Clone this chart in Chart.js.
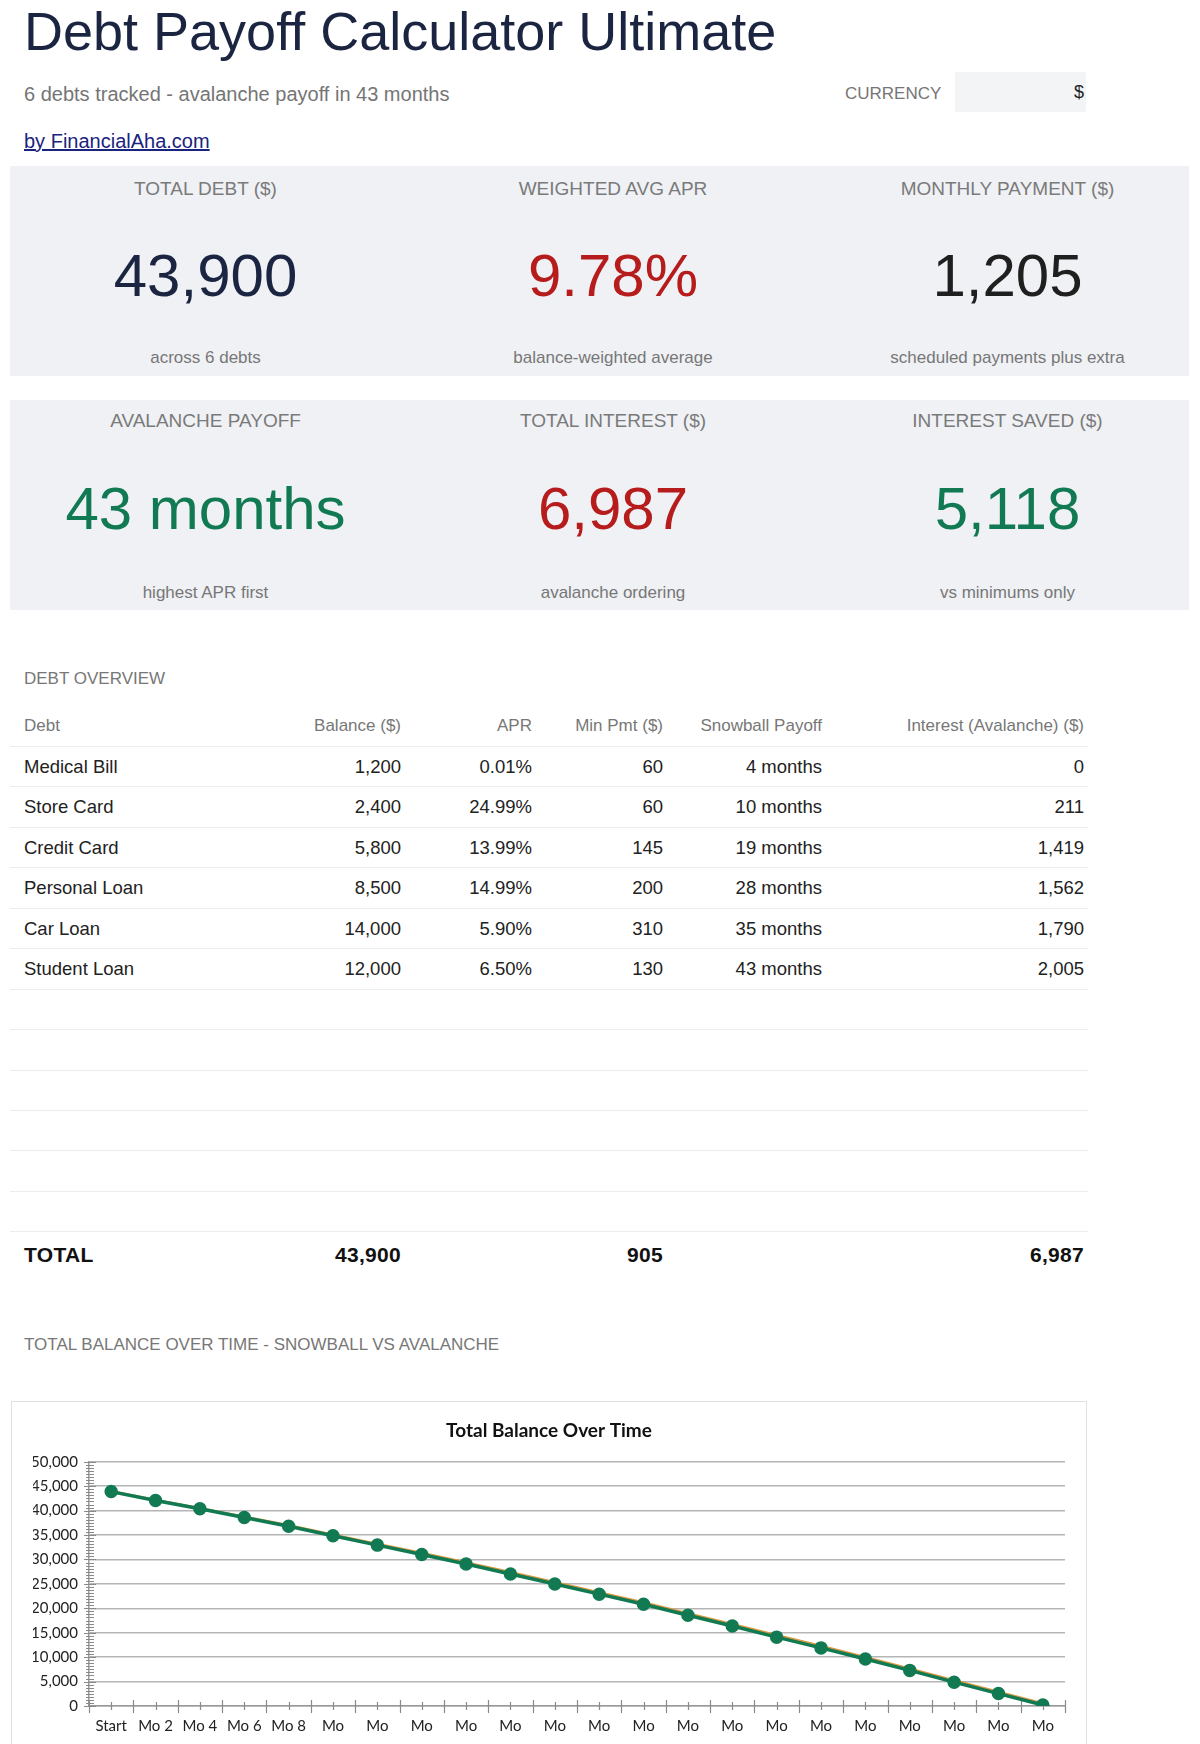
<!DOCTYPE html>
<html>
<head>
<meta charset="utf-8">
<title>Debt Payoff Calculator Ultimate</title>
<script src="https://cdn.jsdelivr.net/npm/chart.js@4.4.1/dist/chart.umd.min.js"></script>
<style>
  html, body { margin: 0; padding: 0; overflow: hidden; background: #fff; }
  body { width: 1200px; height: 1744px; position: relative; font-family: "Liberation Sans", Arial, sans-serif; color: #222; }
  .abs { position: absolute; white-space: nowrap; }
  .title { left: 24px; top: 4px; font-size: 54px; line-height: 54px; color: #1b2541; }
  .sub { left: 24px; top: 82px; font-size: 20px; line-height: 24px; color: #757575; }
  .cur-label { left: 845px; top: 82px; font-size: 17px; line-height: 24px; color: #757575; }
  .cur-box { left: 955px; top: 72px; width: 131px; height: 40px; background: #f3f4f6; text-align: right; font-size: 18px; line-height: 40px; box-sizing: border-box; padding-right: 2px; color: #222; }
  .link { left: 24px; top: 129px; font-size: 20px; line-height: 24px; color: #1a237e; text-decoration: underline; }
  .kpi { position: absolute; left: 10px; width: 1179px; height: 210px; background: #eff1f5; }
  .cell { position: absolute; width: 380px; text-align: center; white-space: nowrap; }
  .k-label { font-size: 19px; line-height: 24px; color: #7a7a7a; }
  .k-value { font-size: 60px; line-height: 60px; }
  .k-sub { font-size: 17px; line-height: 24px; color: #777; }
  .section { left: 24px; font-size: 17px; line-height: 24px; color: #777; }
  .row { position: absolute; left: 10px; width: 1078px; box-sizing: border-box; border-bottom: 1.5px solid #ececec; }
  .row span { position: absolute; top: 0; white-space: nowrap; }
  .hdr span { color: #777; font-size: 17px; }
  .data span { color: #222; font-size: 18.5px; }
  .row.tot { border-bottom: none; }
  .tot span { color: #111; font-size: 21px; font-weight: bold; letter-spacing: 0.3px; }
  .chart-box { position: absolute; left: 11px; top: 1401px; width: 1076px; height: 400px; border: 1px solid #e0e0e0; box-sizing: border-box; }
  .chart-wrap { position: absolute; left: 0; top: 0; width: 1074px; height: 376px; }
</style>
</head>
<body>

<div class="abs title">Debt Payoff Calculator Ultimate</div>
<div class="abs sub">6 debts tracked - avalanche payoff in 43 months</div>
<div class="abs cur-label">CURRENCY</div>
<div class="abs cur-box">$</div>
<div class="abs link">by FinancialAha.com</div>

<div class="kpi" id="kpi1" style="top:166px"></div>
<div class="kpi" id="kpi2" style="top:400px"></div>

<div class="abs section" style="top:667px">DEBT OVERVIEW</div>
<div id="table"></div>

<div class="abs section" style="top:1333px">TOTAL BALANCE OVER TIME - SNOWBALL VS AVALANCHE</div>
<div class="chart-box">
  <div class="chart-wrap"><canvas id="balanceChart"></canvas></div>
</div>

<script>
// KPI cards
const kpiLabels = ['TOTAL DEBT ($)', 'WEIGHTED AVG APR', 'MONTHLY PAYMENT ($)', 'AVALANCHE PAYOFF', 'TOTAL INTEREST ($)', 'INTEREST SAVED ($)'];
const kpiValues = ['43,900', '9.78%', '1,205', '43 months', '6,987', '5,118'];
const kpiSubs = ['across 6 debts', 'balance-weighted average', 'scheduled payments plus extra', 'highest APR first', 'avalanche ordering', 'vs minimums only'];
const kpiColors = ['#1b2541', '#b71c1c', '#1f1f1f', '#117a52', '#b71c1c', '#117a52'];

// Debt table
const tableHeaders = ['Debt', 'Balance ($)', 'APR', 'Min Pmt ($)', 'Snowball Payoff', 'Interest (Avalanche) ($)'];
const debtNames = ['Medical Bill', 'Store Card', 'Credit Card', 'Personal Loan', 'Car Loan', 'Student Loan'];
const debtBalances = ['1,200', '2,400', '5,800', '8,500', '14,000', '12,000'];
const debtAprs = ['0.01%', '24.99%', '13.99%', '14.99%', '5.90%', '6.50%'];
const debtMinPmts = ['60', '60', '145', '200', '310', '130'];
const snowballPayoff = ['4 months', '10 months', '19 months', '28 months', '35 months', '43 months'];
const avalancheInterest = ['0', '211', '1,419', '1,562', '1,790', '2,005'];
const totalsRow = ['TOTAL', '43,900', '', '905', '', '6,987'];

// Chart data
const monthLabels = ['Start', 'Mo 2', 'Mo 4', 'Mo 6', 'Mo 8', 'Mo 10', 'Mo 12', 'Mo 14', 'Mo 16', 'Mo 18', 'Mo 20',
  'Mo 22', 'Mo 24', 'Mo 26', 'Mo 28', 'Mo 30', 'Mo 32', 'Mo 34', 'Mo 36', 'Mo 38', 'Mo 40', 'Mo 42'];
const snowballBalance = [43900, 42150, 40460, 38700, 36940, 35040, 33140, 31260, 29360, 27320, 25270,
  23210, 21160, 18900, 16700, 14430, 12220, 9940, 7590, 5160, 2800, 450];
const avalancheBalance = [43900, 42090, 40370, 38580, 36790, 34870, 32940, 31020, 29090, 27030, 24970,
  22900, 20840, 18570, 16370, 14100, 11900, 9630, 7290, 4880, 2540, 200];
const yTicks = [0, 5000, 10000, 15000, 20000, 25000, 30000, 35000, 40000, 45000, 50000];

// Build KPI cards
const kpiCenters = [195.5, 603, 997.5];
const kpiRows = [{ el: 'kpi1', tops: [11, 80, 180] }, { el: 'kpi2', tops: [9, 79, 181] }];
kpiRows.forEach((r, ri) => {
  const box = document.getElementById(r.el);
  for (let c = 0; c < 3; c++) {
    const i = ri * 3 + c;
    const left = kpiCenters[c] - 190;
    box.innerHTML += `
      <div class="cell k-label" style="left:${left}px;top:${r.tops[0]}px">${kpiLabels[i]}</div>
      <div class="cell k-value" style="left:${left}px;top:${r.tops[1]}px;color:${kpiColors[i]}">${kpiValues[i]}</div>
      <div class="cell k-sub" style="left:${left}px;top:${r.tops[2]}px">${kpiSubs[i]}</div>`;
  }
});

// Build table rows (right edges of numeric columns, relative to row left)
const colRight = [null, 391, 522, 653, 812, 1074];
function rowHtml(cells, cls, top, h) {
  let html = `<div class="row ${cls}" style="top:${top}px;height:${h}px">`;
  cells.forEach((txt, c) => {
    if (txt === '') return;
    if (c === 0) html += `<span style="left:14px;line-height:${h}px">${txt}</span>`;
    else html += `<span style="right:${1078 - colRight[c]}px;line-height:${h}px">${txt}</span>`;
  });
  return html + '</div>';
}
const rowH = 40.45;
const tableTop = 746.5;
let tableHtml = rowHtml(tableHeaders, 'hdr', tableTop - 42, 42);
for (let i = 0; i < 12; i++) {
  const cells = i < debtNames.length
    ? [debtNames[i], debtBalances[i], debtAprs[i], debtMinPmts[i], snowballPayoff[i], avalancheInterest[i]]
    : ['', '', '', '', '', ''];
  tableHtml += rowHtml(cells, 'data', tableTop + 0.5 + rowH * i, rowH);
}
tableHtml += rowHtml(totalsRow, 'tot', 1234, 42);
document.getElementById('table').innerHTML = tableHtml;

// Tick marks that cross the axes (major and minor)
const axisTicks = {
  id: 'axisTicks',
  beforeDatasetsDraw(chart) {
    const { ctx, scales: { x, y } } = chart;
    ctx.save();
    ctx.strokeStyle = '#8a8a8a';
    ctx.lineWidth = 1.2;
    ctx.beginPath();
    for (let v = 0; v <= 50000; v += 625) {
      const py = Math.round(y.getPixelForValue(v)) + 0.5;
      const major = v % 5000 === 0;
      ctx.moveTo(x.left - (major ? 5 : 3), py);
      ctx.lineTo(x.left + (major ? 7 : 5), py);
    }
    const n = monthLabels.length;
    const catW = x.getPixelForValue(1) - x.getPixelForValue(0);
    for (let i = 0; i <= n; i++) {
      const px = Math.round(x.getPixelForValue(i) - catW / 2) + 0.5;
      ctx.moveTo(px, y.bottom - 6);
      ctx.lineTo(px, y.bottom + 7);
    }
    for (let i = 0; i < n; i++) {
      const px = Math.round(x.getPixelForValue(i)) + 0.5;
      ctx.moveTo(px, y.bottom - 4);
      ctx.lineTo(px, y.bottom + 4);
    }
    ctx.stroke();
    ctx.restore();
  }
};

Chart.defaults.font.family = 'Lato';

new Chart(document.getElementById('balanceChart').getContext('2d'), {
  type: 'line',
  data: {
    labels: monthLabels,
    datasets: [
      {
        label: 'Snowball',
        data: snowballBalance,
        borderColor: '#d9983f',
        backgroundColor: '#d9983f',
        borderWidth: 3,
        pointRadius: 0,
        tension: 0,
        order: 1
      },
      {
        label: 'Avalanche',
        data: avalancheBalance,
        borderColor: '#127a52',
        backgroundColor: '#127a52',
        borderWidth: 3.5,
        pointRadius: 5,
        pointHoverRadius: 5,
        tension: 0,
        order: 0
      }
    ]
  },
  plugins: [axisTicks],
  options: {
    responsive: true,
    maintainAspectRatio: false,
    animation: false,
    layout: { padding: { left: 21, right: 21, top: 0, bottom: 5 } },
    plugins: {
      legend: { display: false },
      tooltip: { enabled: false },
      title: {
        display: true,
        text: 'Total Balance Over Time',
        color: '#111',
        font: { family: 'Lato', size: 19, weight: 'bold' },
        padding: { top: 17, bottom: 20 }
      }
    },
    scales: {
      x: {
        offset: true,
        grid: { display: false, drawTicks: false },
        border: { color: '#999', width: 1.5 },
        ticks: {
          color: '#222',
          font: { size: 15, lineHeight: 1.8 },
          padding: 6.5,
          maxRotation: 0,
          autoSkip: false,
          callback: function (value) {
            const lbl = this.getLabelForValue(value);
            return lbl.length > 4 ? lbl.split(' ') : lbl;
          }
        }
      },
      y: {
        min: yTicks[0],
        max: yTicks[yTicks.length - 1],
        afterBuildTicks: (scale) => { scale.ticks = yTicks.map(v => ({ value: v })); },
        afterFit: (scale) => { scale.width = 56; },
        grid: { color: '#b5b5b5', lineWidth: 1.5, drawTicks: false },
        border: { color: '#999', width: 1.5 },
        ticks: {
          color: '#222',
          font: { size: 15 },
          padding: 11,
          callback: (v) => v.toLocaleString('en-US')
        }
      }
    }
  }
});
</script>
</body>
</html>
